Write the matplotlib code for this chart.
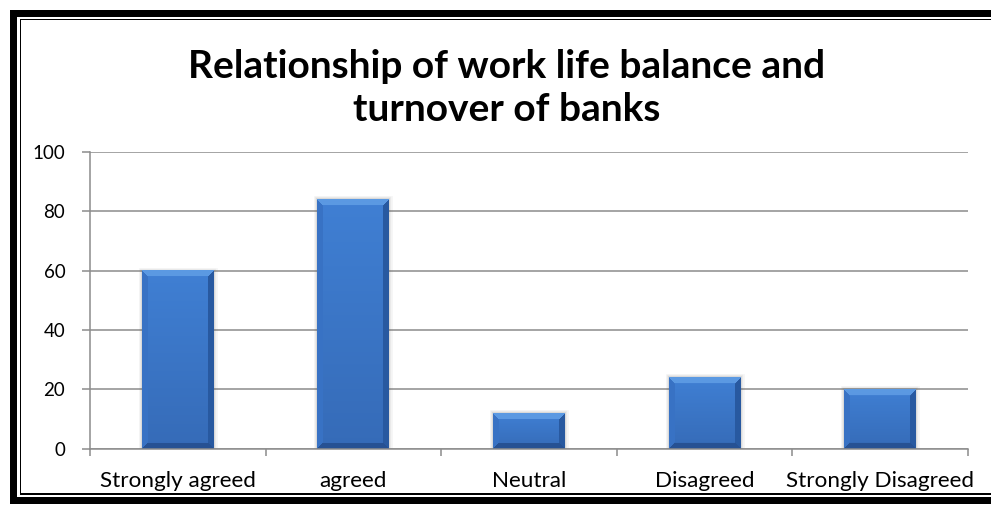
import numpy as np
import matplotlib.pyplot as plt
from matplotlib.patches import Rectangle

plt.rcParams["font.family"] = ["Lato", "DejaVu Sans"]

categories = ["Strongly agreed", "agreed", "Neutral", "Disagreed", "Strongly Disagreed"]
values = [60, 84, 12, 24, 20]
y_ticks = [0, 20, 40, 60, 80, 100]
title_lines = ["Relationship of work life balance and", "turnover of banks"]

W, H = 991, 508
GRID = "#8c8c8c"

# bevelled bar colours
TOP_C = np.array([0.25, 0.50, 0.83])
BOT_C = np.array([0.21, 0.42, 0.72])
EDGE_C = [np.array([0.36, 0.60, 0.89]),   # top
          np.array([0.15, 0.32, 0.58]),   # bottom
          np.array([0.22, 0.45, 0.77]),   # left
          np.array([0.16, 0.35, 0.63])]   # right


def bar_image(h_px, w_px, bevel=6):
    rows = max(int(round(h_px)), 2)
    cols = max(int(round(w_px)), 2)
    yy, xx = np.mgrid[0:rows, 0:cols] + 0.5
    t = (yy / rows)[..., None]
    img = TOP_C * (1 - t) + BOT_C * t
    d = np.stack([yy, rows - yy, xx, cols - xx])
    which = d.argmin(0)
    dmin = d.min(0)
    for k, c in enumerate(EDGE_C):
        img[(which == k) & (dmin < bevel)] = c
    return img


def px_rect(x0, y0, x1, y1, **kw):
    # rectangle given in pixel coords measured from the top-left corner
    return Rectangle((x0 / W, 1 - y1 / H), (x1 - x0) / W, (y1 - y0) / H,
                     transform=fig.transFigure, **kw)


fig = plt.figure(figsize=(W / 100, H / 100), dpi=100)
ax_l, ax_r, ax_t, ax_b = 90, 968, 152, 448.7
ax = fig.add_axes([ax_l / W, 1 - ax_b / H, (ax_r - ax_l) / W, (ax_b - ax_t) / H])

n = len(categories)
ax.set_xlim(-0.5, n - 0.5)
ax.set_ylim(0, 100)
px_x = (ax_r - ax_l) / n
px_y = (ax_b - ax_t) / 100

bar_w = 0.41
for i, v in enumerate(values):
    x0, x1 = i - bar_w / 2, i + bar_w / 2
    # soft halo behind each bar
    for lw, a in [(5, 0.05), (3, 0.08), (1.5, 0.12)]:
        ax.add_patch(Rectangle((x0, 0), bar_w, v, facecolor="none",
                               edgecolor="#606060", lw=lw, alpha=a, zorder=2))
    img = bar_image(v * px_y, bar_w * px_x)
    ax.imshow(img, extent=(x0, x1, 0, v), origin="upper", aspect="auto",
              interpolation="bilinear", zorder=3)

ax.set_xlim(-0.5, n - 0.5)
ax.set_ylim(0, 100)

ax.set_yticks(y_ticks)
ax.yaxis.grid(True, color=GRID, lw=1.1)
ax.set_axisbelow(True)
for s in ["top", "right"]:
    ax.spines[s].set_visible(False)
for s in ["left", "bottom"]:
    ax.spines[s].set_color(GRID)
    ax.spines[s].set_linewidth(1.1)
ax.spines["bottom"].set_zorder(4)

ax.set_xticks(range(n))
ax.set_xticklabels(categories)
ax.set_xticks(np.arange(-0.5, n, 1), minor=True)
ax.tick_params(axis="x", which="major", length=0, pad=16, labelsize=16.2)
ax.tick_params(axis="x", which="minor", length=4.8, width=1.1, color=GRID)
ax.tick_params(axis="y", length=5.8, width=1.1, color=GRID, pad=12, labelsize=13.5)

for k, line in enumerate(title_lines):
    fig.text(507 / W, 1 - (78 + 43 * k) / H, line, ha="center", va="baseline",
             fontsize=28, fontweight="bold")

# double frame: heavy outer rule, thin inner rule
for r in [(10, 10, W, 17.3), (10, 10, 17.3, 504), (10, 497, W, 504)]:
    fig.add_artist(px_rect(*r, facecolor="black", edgecolor="none"))
for r in [(20, 18.8, W, 20.2), (19.6, 18.8, 21, 494.7), (19.6, 493.3, W, 494.7)]:
    fig.add_artist(px_rect(*r, facecolor="black", edgecolor="none"))

fig.savefig("out.png", dpi=100)
